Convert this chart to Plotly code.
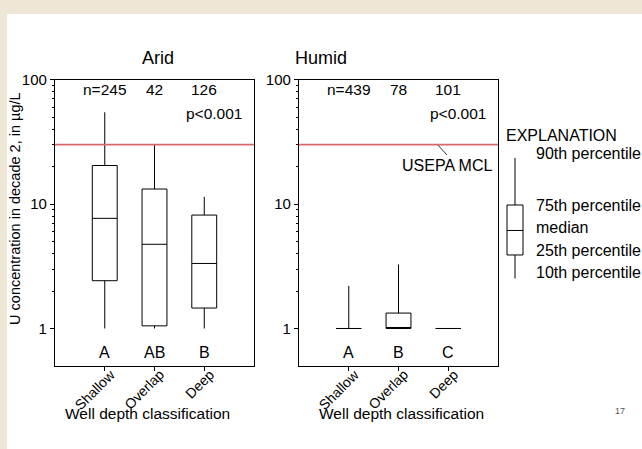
import plotly.graph_objects as go

# Uranium concentration (decade 2) summary statistics, µg/L
categories = ["Shallow", "Overlap", "Deep"]

arid_p10 = [1.0, 1.0, 1.0]
arid_q1 = [2.42, 1.05, 1.46]
arid_median = [7.67, 4.75, 3.33]
arid_q3 = [20.4, 13.2, 8.15]
arid_p90 = [54.6, 30.0, 11.4]
arid_n = ["n=245", "42", "126"]
arid_groups = ["A", "AB", "B"]

humid_p10 = [1.0, 1.0, 1.0]
humid_q1 = [1.0, 1.0, 1.0]
humid_median = [1.0, 1.0, 1.0]
humid_q3 = [1.0, 1.33, 1.0]
humid_p90 = [2.2, 3.27, 1.0]
humid_n = ["n=439", "78", "101"]
humid_groups = ["A", "B", "C"]

mcl = 30.0  # USEPA maximum contaminant level
y_ticks = [1, 10, 100]
y_minor = [2, 3, 4, 5, 6, 7, 8, 9, 20, 30, 40, 50, 60, 70, 80, 90]

W, H = 642, 449
FONT = "Liberation Sans, Arial, sans-serif"


def px(x):
    return x / W


def py(y):
    return 1 - y / H


pos = list(range(len(categories)))

fig = go.Figure()

for ax, (p10, q1, med, q3, p90) in zip(
    ["", "2"],
    [(arid_p10, arid_q1, arid_median, arid_q3, arid_p90),
     (humid_p10, humid_q1, humid_median, humid_q3, humid_p90)],
):
    fig.add_trace(go.Box(
        x=pos, q1=q1, median=med, q3=q3, lowerfence=p10, upperfence=p90,
        xaxis="x" + ax, yaxis="y" + ax,
        width=0.5, whiskerwidth=0, boxpoints=False,
        fillcolor="white", line=dict(color="black", width=1),
        showlegend=False, hoverinfo="skip",
    ))

axis_common = dict(
    showline=True, linecolor="black", linewidth=1.3, mirror=True,
    ticks="outside", tickcolor="black", ticklen=4, showgrid=False,
    zeroline=False, tickfont=dict(family=FONT, size=15, color="black"),
)

y_common = dict(
    axis_common, type="log", range=[-0.299, 2],
    tickvals=y_ticks, ticktext=[str(v) for v in y_ticks],
    minor=dict(tickvals=y_minor, ticks="outside", ticklen=2, tickcolor="black"),
    domain=[py(364), py(72)],
)

x_common = dict(
    axis_common, range=[-1, 3], tickvals=pos, showticklabels=False,
)

fig.update_layout(
    width=W, height=H,
    margin=dict(l=0, r=0, t=0, b=0),
    paper_bgcolor="#efe7d6", plot_bgcolor="white",
    font=dict(family=FONT, size=15, color="black"),
    xaxis=dict(x_common, domain=[px(55), px(254)], anchor="y"),
    yaxis=dict(y_common, anchor="x"),
    xaxis2=dict(x_common, domain=[px(299), px(498)], anchor="y2"),
    yaxis2=dict(y_common, anchor="x2"),
)

shapes = [
    # white slide area
    dict(type="rect", xref="paper", yref="paper", x0=px(7), x1=1.0,
         y0=0, y1=py(5), fillcolor="white", line=dict(width=0), layer="below"),
]
for ax in ["x", "x2"]:
    yax = "y" if ax == "x" else "y2"
    shapes.append(dict(type="line", xref=ax + " domain", yref=yax,
                       x0=0, x1=1, y0=mcl, y1=mcl,
                       line=dict(color="#d9686c", width=1.6)))

# MCL leader line
shapes.append(dict(type="line", xref="paper", yref="paper",
                   x0=px(438), y0=py(139), x1=px(447), y1=py(149),
                   line=dict(color="black", width=0.8)))

# explanation glyph
shapes += [
    dict(type="line", xref="paper", yref="paper", x0=px(515), x1=px(515),
         y0=py(152), y1=py(200), line=dict(color="black", width=1)),
    dict(type="line", xref="paper", yref="paper", x0=px(515), x1=px(515),
         y0=py(251), y1=py(275), line=dict(color="black", width=1)),
    dict(type="rect", xref="paper", yref="paper", x0=px(507), x1=px(523),
         y0=py(251), y1=py(200), line=dict(color="black", width=1),
         fillcolor="white"),
    dict(type="line", xref="paper", yref="paper", x0=px(507), x1=px(523),
         y0=py(226), y1=py(226), line=dict(color="black", width=1)),
]
fig.update_layout(shapes=shapes)

ann = []


def text(x, y, s, size=15, xanchor="center", yanchor="middle", **kw):
    ann.append(dict(x=x, y=y, text=s, showarrow=False, xanchor=xanchor,
                    yanchor=yanchor, font=dict(family=FONT, size=size,
                                               color=kw.pop("color", "black")),
                    **kw))


for ax, ns, groups in [("x", arid_n, arid_groups), ("x2", humid_n, humid_groups)]:
    for i, (n, g) in enumerate(zip(ns, groups)):
        text(i, py(82), n, size=15.5, xref=ax, yref="paper")
        text(i, py(351), g, size=16, xref=ax, yref="paper")
        # slanted category labels hanging from each tick
        text(i, py(366), categories[i], size=14, xanchor="right",
             yanchor="top", textangle=-45, xshift=16, yshift=4,
             xref=ax, yref="paper")
    text(2.8, py(107), "p<0.001", size=15.5, xanchor="right", xref=ax, yref="paper")

text(px(158), py(50), "Arid", size=18, xref="paper", yref="paper")
text(px(321), py(50), "Humid", size=18, xref="paper", yref="paper")
text(px(147), py(413), "Well depth classification", size=15.5,
     xref="paper", yref="paper")
text(px(401), py(413), "Well depth classification", size=15.5,
     xref="paper", yref="paper")
text(px(15), py(204), "U concentration in decade 2, in µg/L", size=14.5,
     textangle=-90, xref="paper", yref="paper")
text(px(400), py(160), "USEPA MCL", size=16, xanchor="left",
     xref="paper", yref="paper")

text(px(504), py(129), "EXPLANATION", size=16, xanchor="left",
     xref="paper", yref="paper")
for label, y in [("90th percentile", 147), ("75th percentile", 201),
                 ("median", 223), ("25th percentile", 246),
                 ("10th percentile", 269)]:
    text(px(534), py(y), label, size=16, xanchor="left",
         xref="paper", yref="paper")

text(px(620), py(410), "17", size=9, color="#555555", xref="paper", yref="paper")

fig.update_layout(annotations=ann)
fig.write_html("out.html")
